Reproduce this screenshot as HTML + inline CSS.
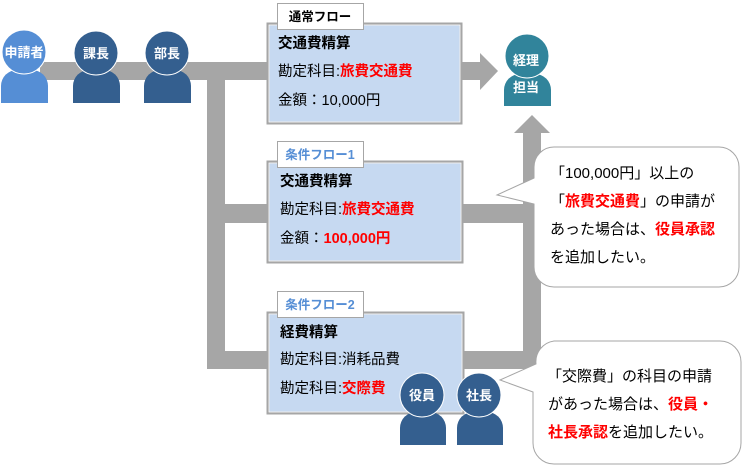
<!DOCTYPE html>
<html><head><meta charset="utf-8"><style>
html,body{margin:0;padding:0;background:#fff;}
svg{display:block;}
text{font-family:"Liberation Sans","Noto Sans CJK JP",sans-serif;}
</style></head><body>
<svg width="744" height="468" viewBox="0 0 744 468" xmlns="http://www.w3.org/2000/svg">
<g fill="#a6a6a6">
<rect x="40" y="62" width="230" height="18"/>
<rect x="207" y="62" width="18" height="307"/>
<rect x="207" y="204" width="62" height="19"/>
<rect x="207" y="351" width="62" height="18"/>
<rect x="460" y="62" width="22" height="18"/>
<polygon points="480,53 498,71 480,90"/>
<rect x="460" y="204" width="81" height="19"/>
<rect x="460" y="351" width="81" height="18"/>
<rect x="523" y="132" width="18" height="237"/>
<polygon points="514,133 532,115 550,133"/>
</g>
<g>
<path d="M1,103 V86 a16,16 0 0 1 16,-16 h15 a16,16 0 0 1 16,16 V103 Z" fill="#558ed5"/>
<circle cx="24" cy="52" r="22" fill="#558ed5" stroke="#fff" stroke-width="1"/>
<path d="M73,103 V86 a16,16 0 0 1 16,-16 h15 a16,16 0 0 1 16,16 V103 Z" fill="#345f8f"/>
<circle cx="96" cy="53" r="22" fill="#345f8f" stroke="#fff" stroke-width="1"/>
<path d="M144,103 V86 a16,16 0 0 1 16,-16 h15 a16,16 0 0 1 16,16 V103 Z" fill="#345f8f"/>
<circle cx="167" cy="53" r="22" fill="#345f8f" stroke="#fff" stroke-width="1"/>
<path d="M504,106 V90 a16,16 0 0 1 16,-16 h15 a16,16 0 0 1 16,16 V106 Z" fill="#31849b"/>
<circle cx="527" cy="56" r="22" fill="#31849b" stroke="#fff" stroke-width="1"/>
</g>
<g fill="#fff" font-weight="bold" font-size="13" text-anchor="middle">
<text x="24" y="57">申請者</text>
<text x="96" y="58">課長</text>
<text x="167" y="58">部長</text>
<text x="526" y="65">経理</text>
<text x="526" y="92">担当</text>
</g>
<g fill="#c6d9f1" stroke="#a6a6a6" stroke-width="3">
<rect x="268" y="24" width="193" height="99"/>
<rect x="268" y="162" width="194" height="100"/>
<rect x="268" y="313" width="195" height="100"/>
</g>
<g fill="none" stroke="#fff" stroke-width="0.8">
<rect x="269" y="25" width="191" height="97"/>
<rect x="269" y="163" width="192" height="98"/>
<rect x="269" y="314" width="193" height="98"/>
</g>
<g fill="#fff" stroke="#a6a6a6" stroke-width="1">
<rect x="277.5" y="3.5" width="86" height="26"/>
<rect x="277.5" y="141.5" width="86" height="26"/>
<rect x="277.5" y="291.5" width="86" height="26"/>
</g>
<g font-size="12.5" font-weight="bold" text-anchor="middle">
<text x="320" y="21" fill="#000">通常フロー</text>
<text x="320" y="159" fill="#558ed5">条件フロー1</text>
<text x="320" y="309" fill="#558ed5">条件フロー2</text>
</g>
<g font-size="14.5" fill="#000">
<text x="278" y="48" font-weight="bold">交通費精算</text>
<text x="278" y="76">勘定科目:<tspan fill="#f00" font-weight="bold">旅費交通費</tspan></text>
<text x="278" y="105">金額：10,000円</text>
<text x="280" y="186" font-weight="bold">交通費精算</text>
<text x="280" y="214">勘定科目:<tspan fill="#f00" font-weight="bold">旅費交通費</tspan></text>
<text x="280" y="243">金額：<tspan fill="#f00" font-weight="bold">100,000円</tspan></text>
<text x="280" y="337" font-weight="bold">経費精算</text>
<text x="280" y="364">勘定科目:消耗品費</text>
<text x="280" y="393">勘定科目:<tspan fill="#f00" font-weight="bold">交際費</tspan></text>
</g>
<path d="M400,445 V428 a16,16 0 0 1 16,-16 h14 a16,16 0 0 1 16,16 V445 Z" fill="#345f8f"/>
<circle cx="422" cy="395" r="22" fill="#345f8f" stroke="#fff" stroke-width="1"/>
<path d="M457,445 V428 a16,16 0 0 1 16,-16 h14 a16,16 0 0 1 16,16 V445 Z" fill="#345f8f"/>
<circle cx="479" cy="395" r="22" fill="#345f8f" stroke="#fff" stroke-width="1"/>
<g fill="#fff" font-weight="bold" font-size="13" text-anchor="middle">
<text x="422" y="400">役員</text>
<text x="479" y="400">社長</text>
</g>
<path d="M554,147 H719 a20,20 0 0 1 20,20 V267 a20,20 0 0 1 -20,20 H554 a20,20 0 0 1 -20,-20 V204 L497,195 L534,178 V167 a20,20 0 0 1 20,-20 Z" fill="#fff" stroke="#a6a6a6" stroke-width="1"/>
<path d="M554,341 H720 a21,21 0 0 1 21,21 V443 a21,21 0 0 1 -21,21 H554 a21,21 0 0 1 -21,-21 V392 L500,380 L536,364 a21,21 0 0 1 18,-23 Z" fill="#fff" stroke="#a6a6a6" stroke-width="1"/>
<g font-size="15" fill="#000">
<text x="550" y="178">「100,000円」以上の</text>
<text x="550" y="206">「<tspan fill="#f00" font-weight="bold">旅費交通費</tspan>」の申請が</text>
<text x="550" y="234">あった場合は、<tspan fill="#f00" font-weight="bold">役員承認</tspan></text>
<text x="550" y="262">を追加したい。</text>
<text x="547" y="381">「交際費」の科目の申請</text>
<text x="548" y="409">があった場合は、<tspan fill="#f00" font-weight="bold">役員・</tspan></text>
<text x="548" y="437"><tspan fill="#f00" font-weight="bold">社長承認</tspan>を追加したい。</text>
</g>
</svg>
</body></html>
